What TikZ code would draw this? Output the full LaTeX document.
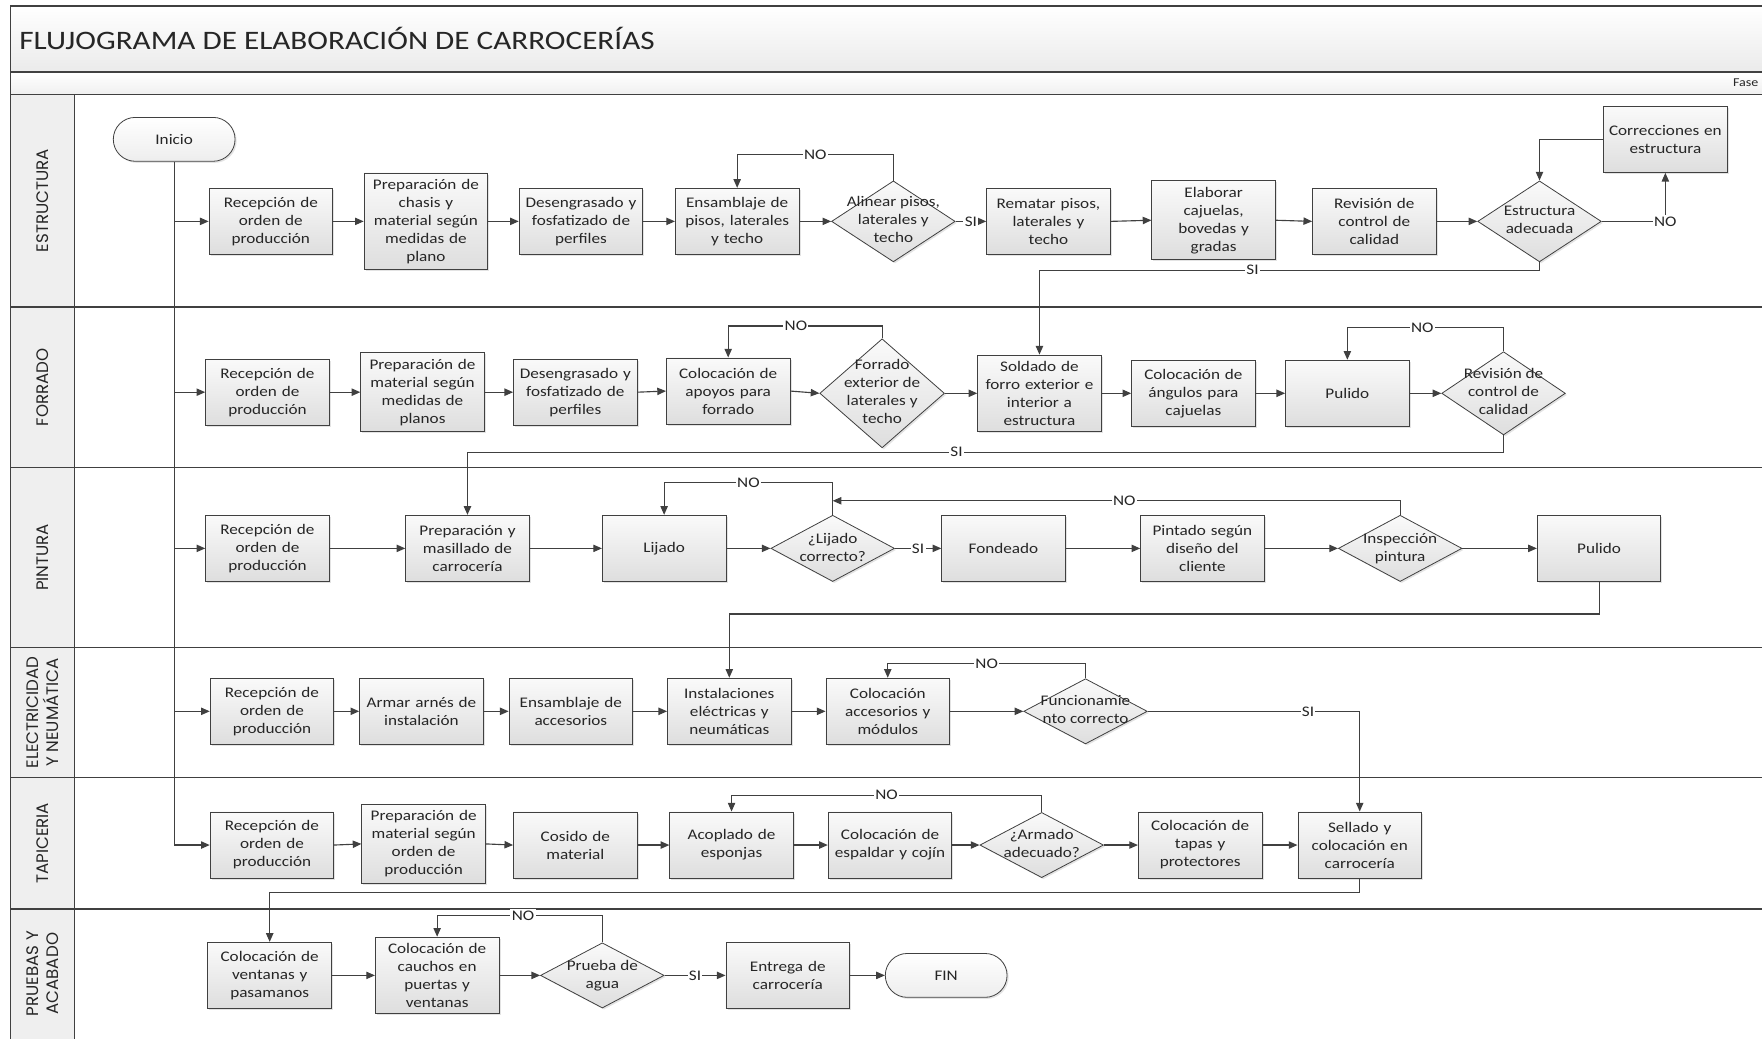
\documentclass[tikz,border=0pt]{standalone}
\usepackage{fontspec}
\setmainfont{Carlito}[FakeStretch=1.17]
\newfontfamily\lanefont{Poppins}
\usepackage{tikz}
\usetikzlibrary{arrows.meta,positioning,shapes.geometric,shapes.misc,calc,shadows}
\definecolor{ink}{HTML}{262626}
\definecolor{edge}{HTML}{404040}
\definecolor{band}{HTML}{EFEFEF}
\newcommand{\dtxt}[1]{\smash{\makebox[0pt]{\raisebox{-0.25em}{\begin{tabular}{@{}c@{}}#1\end{tabular}}}}}
\tikzset{
  txt/.style={font=\fontsize{11}{13.5}\selectfont,text=ink},
  shade/.style={drop shadow={shadow xshift=1.2pt,shadow yshift=-1.2pt,opacity=0.22}},
  box/.style={txt,shade,draw=edge,line width=0.6pt,top color=black!2,bottom color=black!13,align=center,text width=88pt,inner xsep=2.35pt,inner ysep=4.6pt,minimum height=49.7pt},
  decision/.style 2 args={txt,shade,diamond,draw=edge,line width=0.6pt,top color=black!2,bottom color=black!13,inner sep=0pt,minimum width=#1,minimum height=#2},
  term/.style={txt,shade,rounded rectangle,draw=edge,line width=0.6pt,top color=white,bottom color=black!7,minimum width=98pt,minimum height=32.9pt},
  arrow/.style={-{Triangle[length=6.5pt,width=5.5pt]},line width=0.85pt,draw=edge},
  wire/.style={line width=0.85pt,draw=edge},
  tag/.style={txt,fill=white,inner sep=1pt},
  lanelbl/.style={font=\lanefont\fontsize{12.5}{14.5}\selectfont,text=ink,rotate=90,align=center},
  frame/.style={draw=edge,line width=1.1pt},
}

\begin{document}
\begin{tikzpicture}[x=0.8428pt,y=-0.8428pt]
    \useasboundingbox (0,0) rectangle (1568,924);
    % marco y carriles
    \fill[top color=white,bottom color=black!8] (9.5,5.5) rectangle (1580,64);
    \fill[top color=white,bottom color=black!6] (9.5,64) rectangle (1580,84);
    \fill[band] (9.5,84) rectangle (66.5,930);
    \draw[frame] (1580,5.5) -- (9.5,5.5) -- (9.5,930);
    \draw[frame] (66.5,84) -- (66.5,930);
    \foreach \y in {64,84,273,416,576,692,809} \draw[frame] (9.5,\y) -- (1580,\y);
    \node[anchor=west,font=\fontsize{20}{24}\selectfont,text=ink] (title) at (13,34) {FLUJOGRAMA DE ELABORACIÓN DE CARROCERÍAS};
    \node[anchor=east,font=\fontsize{9}{10}\selectfont,text=ink] (fase) at (1569,74) {Fase};
    \node[lanelbl] (l1) at (38,178.5) {ESTRUCTURA};
    \node[lanelbl] (l2) at (38,344.5) {FORRADO};
    \node[lanelbl] (l3) at (38,496) {PINTURA};
    \node[lanelbl] (l4) at (38,634) {ELECTRICIDAD\\Y NEUMÁTICA};
    \node[lanelbl] (l5) at (38,750.5) {TAPICERIA};
    \node[lanelbl] (l6) at (38,866.5) {PRUEBAS Y\\ACABADO};

    % estructura
    \node[term] (inicio) at (155,124) {Inicio};
    \node[box] (e1) at (241,197) {Recepción de\\orden de\\producción};
    \node[box] (e2) at (379,197) {Preparación de\\chasis y\\material según\\medidas de\\plano};
    \node[box] (e3) at (517,197) {Desengrasado y\\fosfatizado de\\perfiles};
    \node[box] (e4) at (656,197) {Ensamblaje de\\pisos, laterales\\y techo};
    \node[decision={92.7pt}{60.7pt}] (d1) at (795,197) {\dtxt{Alinear pisos,\\laterales y\\techo}};
    \node[box] (e5) at (933,197) {Rematar pisos,\\laterales y\\techo};
    \node[box] (e6) at (1080,196) {Elaborar\\cajuelas,\\bovedas y\\gradas};
    \node[box] (e7) at (1223,197) {Revisión de\\control de\\calidad};
    \node[decision={92.7pt}{60.7pt}] (d2) at (1370,197) {\dtxt{Estructura\\adecuada}};
    \node[box] (corr) at (1482,124) {Correcciones en\\estructura};

    % forrado
    \node[box] (f1) at (238,349) {Recepción de\\orden de\\producción};
    \node[box] (f2) at (376,349) {Preparación de\\material según\\medidas de\\planos};
    \node[box] (f3) at (512,349) {Desengrasado y\\fosfatizado de\\perfiles};
    \node[box] (f4) at (648,348) {Colocación de\\apoyos para\\forrado};
    \node[decision={93.5pt}{81.8pt}] (d3) at (785,350) {\dtxt{Forrado\\exterior de\\laterales y\\techo}};
    \node[box] (f5) at (925,350) {Soldado de\\forro exterior e\\interior a\\estructura};
    \node[box] (f6) at (1062,350) {Colocación de\\ángulos para\\cajuelas};
    \node[box] (f7) at (1199,350) {Pulido};
    \node[decision={92.7pt}{62.4pt}] (d4) at (1338,350) {\dtxt{Revisión de\\control de\\calidad}};

    % pintura
    \node[box] (p1) at (238,488) {Recepción de\\orden de\\producción};
    \node[box] (p2) at (416,488) {Preparación y\\masillado de\\carrocería};
    \node[box] (p3) at (591,488) {Lijado};
    \node[decision={92.7pt}{49.7pt}] (d5) at (741,488) {\dtxt{¿Lijado\\correcto?}};
    \node[box] (p4) at (893,488) {Fondeado};
    \node[box] (p5) at (1070,488) {Pintado según\\diseño del\\cliente};
    \node[decision={92.7pt}{49.7pt}] (d6) at (1246,488) {\dtxt{Inspección\\pintura}};
    \node[box] (p6) at (1423,488) {Pulido};

    % electricidad y neumatica
    \node[box] (el1) at (242,633) {Recepción de\\orden de\\producción};
    \node[box] (el2) at (375,633) {Armar arnés de\\instalación};
    \node[box] (el3) at (508,633) {Ensamblaje de\\accesorios};
    \node[box] (el4) at (649,633) {Instalaciones\\eléctricas y\\neumáticas};
    \node[box] (el5) at (790,633) {Colocación\\accesorios y\\módulos};
    \node[decision={92.7pt}{48.9pt}] (d7) at (966,633) {\dtxt{Funcionamie\\nto correcto}};

    % tapiceria
    \node[box] (tp1) at (242,752) {Recepción de\\orden de\\producción};
    \node[box] (tp2) at (377,751) {Preparación de\\material según\\orden de\\producción};
    \node[box] (tp3) at (512,752) {Cosido de\\material};
    \node[box] (tp4) at (651,752) {Acoplado de\\esponjas};
    \node[box] (tp5) at (792,752) {Colocación de\\espaldar y cojín};
    \node[decision={92.7pt}{48.9pt}] (d8) at (927,752) {\dtxt{¿Armado\\adecuado?}};
    \node[box] (tp6) at (1068,752) {Colocación de\\tapas y\\protectores};
    \node[box] (tp7) at (1210,752) {Sellado y\\colocación en\\carrocería};

    % pruebas y acabado
    \node[box] (pa1) at (240,868) {Colocación de\\ventanas y\\pasamanos};
    \node[box] (pa2) at (389,868) {Colocación de\\cauchos en\\puertas y\\ventanas};
    \node[decision={92.7pt}{48.9pt}] (d9) at (536,868) {\dtxt{Prueba de\\agua}};
    \node[box] (pa3) at (701,868) {Entrega de\\carrocería};
    \node[term] (fin) at (842,868) {FIN};

    % conectores
    \draw[wire] (inicio.south) -- (inicio.south |- tp1.west);
    \foreach \n in {e1,f1,p1,el1,tp1} \draw[arrow] (inicio.south |- \n.west) -- (\n.west);
    \foreach \a/\b in {e1/e2,e2/e3,e3/e4,e4/d1,e5/e6,e6/e7,e7/d2,
                       f1/f2,f2/f3,f3/f4,f4/d3,d3/f5,f5/f6,f6/f7,f7/d4,
                       p1/p2,p2/p3,p3/d5,p4/p5,p5/d6,d6/p6,
                       el1/el2,el2/el3,el3/el4,el4/el5,el5/d7,
                       tp1/tp2,tp2/tp3,tp3/tp4,tp4/tp5,tp5/d8,d8/tp6,tp6/tp7,
                       pa1/pa2,pa2/d9,pa3/fin}
      \draw[arrow] (\a.east) -- (\b.west);
    \foreach \a/\b in {d1/e5,d5/p4,d9/pa3}
      \draw[arrow] (\a.east) -- node[tag]{SI} (\b.west);

    \draw[arrow] (d1.north) -- ++(0,-23) -| node[tag,pos=0.25]{NO} (e4.north);
    \draw[arrow] (d2.east) -| node[tag,pos=0.5]{NO} (corr.south);
    \draw[arrow] (corr.west) -| (d2.north);
    \draw[arrow] (d2.south) -- ++(0,7) -| node[tag,pos=0.287]{SI} (f5.north);
    \draw[arrow] (d3.north) -- ++(0,-11) -| node[tag,pos=0.28]{NO} (f4.north);
    \draw[arrow] (d4.north) -- ++(0,-21) -| node[tag,pos=0.26]{NO} (f7.north);
    \draw[arrow] (d4.south) -- ++(0,15) -| node[tag,pos=0.264]{SI} (p2.north);
    \draw[arrow] (d5.north) -- ++(0,-28.5) -| node[tag,pos=0.25]{NO} (p3.north);
    \coordinate (j5) at ($(d5.north)+(0,-12.5)$);
    \draw[arrow] (d6.north) |- node[tag,pos=0.743]{NO} (j5);
    \draw[arrow] (p6.south) -- ++(0,28.5) -| (el4.north);
    \draw[arrow] (d7.north) -- ++(0,-13) -| node[tag,pos=0.25]{NO} (el5.north);
    \draw[arrow] (d7.east) -| node[tag,pos=0.378]{SI} (tp7.north);
    \draw[arrow] (d8.north) -- ++(0,-15) -| node[tag,pos=0.25]{NO} (tp4.north);
    \draw[arrow] (tp7.south) -- ++(0,12.5) -| (pa1.north);
    \draw[arrow] (d9.north) -- ++(0,-24) -| node[tag,pos=0.24]{NO} (pa2.north);
\end{tikzpicture}
\end{document}
